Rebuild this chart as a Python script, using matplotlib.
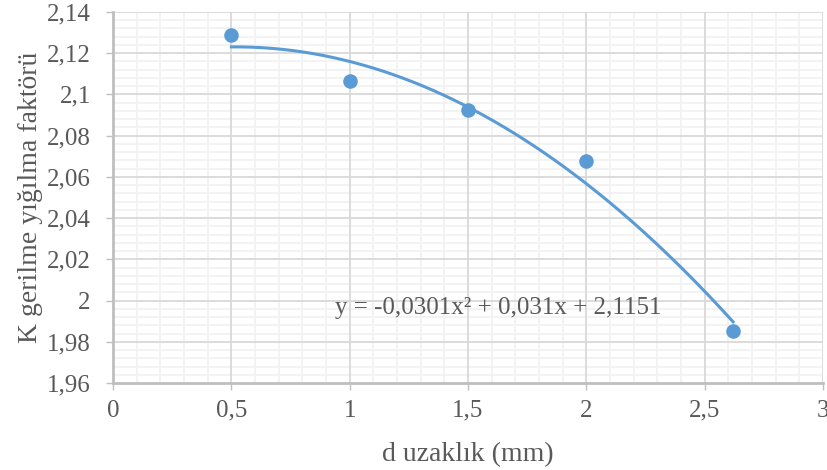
# K stress concentration factor vs distance, scatter with polynomial trendline

import numpy as np
import matplotlib.pyplot as plt
from matplotlib.ticker import MultipleLocator, FuncFormatter

# --- Data ---
d_mm = [0.5, 1.0, 1.5, 2.0, 2.62]
k_factor = [2.1288, 2.1064, 2.0924, 2.0677, 1.9851]

# trendline coefficients as printed on the chart (x^2, x, const)
trend_coef = [-0.0301, 0.031, 2.1151]
trend_label = "y = -0,0301x² + 0,031x + 2,1151"

x_ticks = [0, 0.5, 1, 1.5, 2, 2.5, 3]
y_ticks = [1.96, 1.98, 2.0, 2.02, 2.04, 2.06, 2.08, 2.10, 2.12, 2.14]

blue = "#5B9BD5"
text_gray = "#595959"

plt.rcParams["font.family"] = ["Liberation Serif", "DejaVu Serif"]

fig = plt.figure(figsize=(8.28, 4.70), dpi=100)
ax = fig.add_axes([0.1365, 0.185, 0.8575, 0.7895])

# trendline over the data range
xs = np.linspace(min(d_mm), max(d_mm), 200)
ax.plot(xs, np.polyval(trend_coef, xs), color=blue, lw=2.2, zorder=3)
ax.scatter(d_mm, k_factor, s=110, color=blue, zorder=4, linewidths=0)

ax.set_xlim(x_ticks[0], x_ticks[-1])
ax.set_ylim(y_ticks[0], y_ticks[-1])
ax.set_xticks(x_ticks)
ax.set_yticks(y_ticks)
ax.xaxis.set_minor_locator(MultipleLocator(0.1))
ax.yaxis.set_minor_locator(MultipleLocator(0.004))

fmt = FuncFormatter(lambda v, p: f"{round(v, 3):g}".replace(".", ","))
ax.xaxis.set_major_formatter(fmt)
ax.yaxis.set_major_formatter(fmt)

# minor grid from the axis, major grid drawn on top of it so it stays unbroken
ax.grid(which="minor", color="#f2f2f2", lw=1.3)
ax.set_axisbelow(True)
for xv in x_ticks[1:]:
    ax.axvline(xv, color="#d9d9d9", lw=1.3, zorder=0.6)
for yv in y_ticks[1:]:
    ax.axhline(yv, color="#d9d9d9", lw=1.3, zorder=0.6)

for s in ["top", "right"]:
    ax.spines[s].set_visible(False)
for s in ["left", "bottom"]:
    ax.spines[s].set_color("#bfbfbf")
    ax.spines[s].set_linewidth(2)
    ax.spines[s].set_zorder(2)

ax.tick_params(which="major", length=5, width=1, color="#bfbfbf",
               labelsize=18, labelcolor=text_gray)
ax.tick_params(axis="x", pad=7)
ax.tick_params(axis="y", pad=11)
ax.tick_params(which="minor", length=0)

ax.set_xlabel("d uzaklık (mm)", fontsize=20, color=text_gray, labelpad=15)
ax.set_ylabel("K gerilme yığılma faktörü", fontsize=20, color=text_gray, labelpad=3)

ax.text(0.94, 1.9965, trend_label, fontsize=18, color=text_gray, va="center", ha="left")

fig.savefig("out.png", dpi=100)
